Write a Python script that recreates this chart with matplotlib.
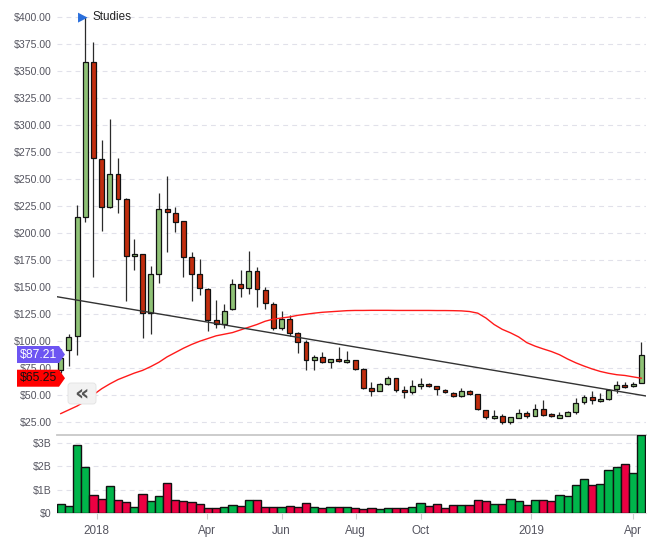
import matplotlib
matplotlib.use("Agg")
import matplotlib.pyplot as plt
from matplotlib.transforms import IdentityTransform, blended_transform_factory
from matplotlib.patches import Polygon, FancyBboxPatch
import numpy as np

plt.rcParams['font.family'] = ['Liberation Sans', 'DejaVu Sans']
plt.rcParams['lines.scale_dashes'] = False

# ---------------- data (weekly candles) ----------------
opens = [73, 91.4, 104.4, 214.2, 357.8, 268, 224.1, 254.1, 231.4, 178,
         180, 125.9, 161.5, 221.6, 218, 210.5, 177.2, 161.5, 147.6, 118.9,
         115.5, 129, 152.2, 148.5, 164.2, 146.6, 133.7, 111.4, 119.8, 106.8,
         98.5, 81.8, 84.6, 80, 82.7, 80, 81.8, 73.5, 55.9, 53.1,
         60.2, 65.2, 54.1, 52.2, 58.1, 59.6, 58.4, 54.1, 51.3, 48.5,
         53.1, 50.4, 35.5, 28.1, 30, 24.4, 28.7, 32.7, 30, 37,
         31.8, 28.7, 30.6, 34, 42.9, 47.9, 43.8, 45.7, 55, 59.3,
         57.7, 60.8]
highs = [92, 106, 225.7, 400, 376.3, 285.8, 305.2, 268.9, 232, 194,
         180.5, 169.2, 237, 252.5, 223.5, 211, 182.4, 175.6, 148.5, 137.7,
         133.7, 156.8, 165.5, 183, 167.9, 149.4, 135.5, 127.2, 123.8, 108,
         100.6, 86.4, 89.2, 83, 94, 90.5, 82, 74.4, 61.5, 60.5,
         67.3, 65.5, 58.1, 63.3, 65.2, 60.5, 58.5, 55, 52.2, 55.9,
         54.1, 50.5, 35.6, 35.5, 31.8, 29.5, 36.4, 34.6, 41.4, 45.1,
         32.7, 34, 34.9, 47, 50, 53.1, 51.2, 55, 62.7, 61.4,
         62.1, 98.8]
lows = [70, 77, 86.8, 210, 159.3, 201.9, 223, 218.5, 137, 165,
        102.8, 105.9, 153, 182.4, 200.9, 159.3, 136.3, 142.3, 109.3, 112.1,
        112.1, 128, 140.8, 143.2, 131.5, 129.7, 110.2, 110.2, 104.7, 88.9,
        73.2, 72.6, 79.5, 74.4, 80, 79.8, 72.6, 55, 49.1, 53,
        58.7, 52.2, 47.2, 51, 55, 56.8, 50, 51.9, 47.9, 47.9,
        49.7, 35.5, 27.2, 27.8, 22.6, 22.6, 28.1, 28.7, 29.9, 30,
        29.7, 28.1, 30.5, 32.4, 41.4, 41.7, 43.2, 45.5, 51.9, 56.5,
        57.5, 60.5]
closes = [84, 103, 214.2, 357.8, 268.9, 224.1, 254.1, 231.4, 178.3, 180,
          125.5, 161.5, 221.6, 219, 210.2, 177.8, 161.5, 148.5, 118.8, 115.5,
          127.8, 152.2, 148.5, 164.2, 147.6, 134.6, 111.4, 119.8, 106.8, 98.5,
          81.8, 84.6, 80, 82.7, 80.9, 82.4, 73.5, 56, 53.1, 60.2,
          65.2, 54.1, 52.2, 57.8, 59.9, 57.8, 55, 52.2, 48.5, 53.1,
          50.4, 36.4, 29.1, 30.3, 24.4, 29.4, 32.7, 30, 37, 31.5,
          30, 31.2, 33.7, 42, 47.9, 45.4, 46, 54.7, 59, 56.8,
          59.9, 87.21]
volume_b = [0.40, 0.31, 2.92, 1.98, 0.78, 0.61, 1.17, 0.57, 0.48, 0.27,
            0.83, 0.53, 0.74, 1.29, 0.57, 0.53, 0.48, 0.40, 0.23, 0.23,
            0.27, 0.36, 0.31, 0.57, 0.57, 0.27, 0.27, 0.27, 0.31, 0.27,
            0.44, 0.27, 0.23, 0.27, 0.27, 0.27, 0.23, 0.18, 0.23, 0.18,
            0.23, 0.23, 0.23, 0.27, 0.44, 0.31, 0.40, 0.23, 0.36, 0.36,
            0.36, 0.57, 0.53, 0.40, 0.40, 0.61, 0.53, 0.36, 0.57, 0.57,
            0.53, 0.78, 0.74, 1.21, 1.47, 1.21, 1.25, 1.85, 1.98, 2.08,
            1.72, 3.32]
sma = [32.5, 36, 39.5, 44, 50, 55.5, 60, 64, 67, 70,
       72.5, 76, 80, 85, 89, 93, 96.5, 99.5, 102, 104.5,
       106, 107.5, 110, 112.5, 115, 118, 120, 121, 122, 123.5,
       124.5, 125.5, 126.3, 126.8, 127.3, 127.8, 128, 128, 128.1, 128.1,
       128.1, 128, 128, 128, 128, 128, 127.9, 127.9, 127.8, 127.6,
       127, 125.5, 121, 115, 110.5, 107.3, 103.5, 98.2, 95, 92.4,
       90, 87, 83, 79.5, 76.5, 73.8, 71.5, 69.8, 68.5, 67.8,
       66.5, 65.25]
trend_ends = [140.7, 48.8]
price_ticks = [25, 50, 75, 100, 125, 150, 175, 200, 225, 250, 275, 300, 325, 350, 375, 400]
vol_ticks = [0, 1, 2, 3]
vol_tick_labels = ['$0', '$1B', '$2B', '$3B']
x_tick_pos = [4.39, 17.92, 27.02, 36.07, 44.02, 57.52, 70.03]
x_tick_labels = ['2018', 'Apr', 'Jun', 'Aug', 'Oct', '2019', 'Apr']

# ---------------- figure ----------------
W, H = 661, 552
fig = plt.figure(figsize=(W / 100, H / 100), dpi=100)
fig.patch.set_facecolor('white')
L, R = 57, 646
ax = fig.add_axes([L / W, (H - 435) / H, (R - L) / W, 430 / H])
axv = fig.add_axes([L / W, (H - 513) / H, (R - L) / W, 78 / H], sharex=ax)

n = len(closes)
x = np.arange(n)
o = np.array(opens); c = np.array(closes); hi = np.array(highs); lo = np.array(lows)
up = c >= o
cand_green = '#8fc276'
cand_red = '#c12d0e'
xmin, xmax = -0.46, 71.58

# price panel
ax.vlines(x, lo, hi, color='#2b2b2b', lw=0.9, zorder=2)
body_bottom = np.minimum(o, c)
body_h = np.maximum(np.abs(c - o), 0.8)
ax.bar(x, body_h, bottom=body_bottom, width=0.6,
       color=[cand_green if u else cand_red for u in up],
       edgecolor='#111111', linewidth=0.9, zorder=3)
ax.plot(x, sma, color='#ff1a1a', lw=1.0, zorder=4)
ax.plot([xmin, xmax], trend_ends, color='#333333', lw=1.0, zorder=4)

ax.set_xlim(xmin, xmax)
ax.set_ylim(12.68, 410.8)
ax.set_yticks(price_ticks)
ax.set_yticklabels([f'${v:.2f}' for v in price_ticks])
ax.tick_params(axis='y', length=0, pad=4, labelsize=7.6, labelcolor='#555560')
ax.tick_params(axis='x', length=0, labelbottom=False)
for y in price_ticks:
    ax.axhline(y, color='#e1e1ea', lw=0.8, ls=(0, (3.5, 3)), zorder=0)
for s in ax.spines.values():
    s.set_visible(False)

# volume panel
vcol = ['#00b54b' if u else '#eb0042' for u in up]
axv.bar(x, volume_b, width=1.0, color=vcol, edgecolor='#111111', linewidth=1.0, zorder=3)
axv.set_ylim(0, 3.329)
axv.set_yticks(vol_ticks)
axv.set_yticklabels(vol_tick_labels)
axv.tick_params(axis='y', length=0, pad=4, labelsize=7.6, labelcolor='#555560')
for y in vol_ticks[1:]:
    axv.axhline(y, color='#e1e1ea', lw=0.8, ls=(0, (3.5, 3)), zorder=0)
axv.set_xticks(x_tick_pos)
axv.set_xticklabels([])
axv.tick_params(axis='x', length=4, width=0.8, color='#cccccc')
# x labels on a common baseline
btrans = blended_transform_factory(axv.transData, fig.transFigure)
for pos, lab in zip(x_tick_pos, x_tick_labels):
    axv.text(pos, (H - 534) / H, lab, transform=btrans, ha='center', va='baseline',
             fontsize=8.4, color='#555560')
for k, s in axv.spines.items():
    s.set_visible(False)
axv.spines['top'].set_visible(True)
axv.spines['top'].set_color('#c8c8c8')
axv.spines['top'].set_linewidth(1.3)
axv.spines['bottom'].set_visible(True)
axv.spines['bottom'].set_color('#dddddd')
axv.spines['bottom'].set_linewidth(0.8)
axv.set_xlim(xmin, xmax)

# ---------------- overlays ----------------
fig.canvas.draw()
ident = IdentityTransform()


def tag(value, face, tcol):
    yd = ax.transData.transform((0, value))[1]
    h2 = 8.5
    poly = Polygon([(17, yd - h2), (59, yd - h2), (65, yd), (59, yd + h2), (17, yd + h2)],
                   closed=True, facecolor=face, edgecolor='none', transform=ident, zorder=10)
    fig.add_artist(poly)
    fig.text(39 / W, yd / H, f'${value:.2f}', ha='center', va='center',
             fontsize=8.8, color=tcol, zorder=11)


tag(closes[-1], '#6d55f2', 'white')
tag(sma[-1], '#ff0000', '#111111')

# collapse button
btn = FancyBboxPatch((68, H - 404), 28, 21, boxstyle='round,pad=0,rounding_size=3',
                     facecolor='#f2f2f2', edgecolor='#e2e2e2', lw=0.6,
                     transform=ident, zorder=10)
fig.add_artist(btn)
fig.text(81 / W, (H - 393.5) / H, '«', ha='center', va='center', fontsize=16,
         color='#555555', fontweight='bold', family='DejaVu Sans', zorder=11)

# studies flag
fig.text(82.5 / W, (H - 16.5) / H, '▶', ha='center', va='center', fontsize=9,
         color='#2a6fdc', family='DejaVu Sans')
fig.text(93 / W, (H - 16.5) / H, 'Studies', ha='left', va='center', fontsize=8.4,
         color='#222222')

fig.savefig('out.png', dpi=100)
